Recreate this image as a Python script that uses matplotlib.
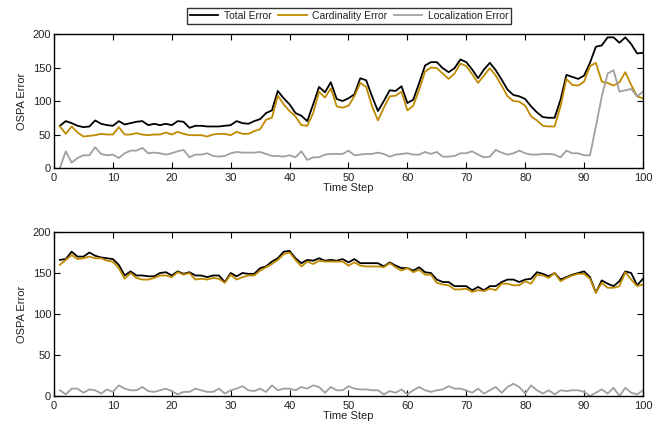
import matplotlib.pyplot as plt
import numpy as np

plt.rcParams['font.family'] = ['Liberation Sans', 'DejaVu Sans']

############### DATA ###############
steps = np.arange(1, 101)

# top panel
total_top = [63, 70, 67, 63, 61, 62, 71, 66, 64, 63, 70, 65, 67, 69, 70, 64, 66, 64, 66, 64,
             70, 69, 60, 63, 63, 62, 62, 62, 63, 64, 70, 67, 66, 70, 73, 82, 86, 115, 104, 95,
             82, 78, 70, 95, 121, 113, 128, 103, 100, 104, 110, 134, 131, 107, 85, 100, 116, 115, 122, 97,
             102, 127, 153, 158, 158, 149, 143, 149, 162, 158, 147, 134, 147, 157, 146, 132, 117, 109, 107, 103,
             92, 83, 76, 75, 75, 102, 139, 136, 133, 138, 157, 181, 183, 195, 195, 187, 195, 185, 171, 172]
card_top = [62, 51, 62, 53, 47, 48, 49, 51, 50, 50, 61, 50, 50, 52, 50, 49, 50, 50, 53, 50,
            54, 51, 49, 49, 49, 47, 50, 51, 51, 49, 54, 51, 51, 55, 58, 72, 75, 108, 95, 85,
            77, 64, 63, 82, 114, 105, 119, 92, 90, 93, 107, 127, 121, 92, 71, 90, 107, 108, 114, 86,
            93, 117, 144, 150, 149, 141, 133, 141, 156, 152, 140, 127, 138, 149, 138, 123, 107, 100, 99, 93,
            77, 71, 63, 62, 62, 92, 133, 124, 123, 129, 152, 157, 129, 127, 123, 128, 143, 124, 107, 104]
loc_top = [0, 25, 8, 15, 19, 19, 31, 21, 19, 20, 15, 22, 26, 26, 30, 22, 23, 22, 20, 22,
           25, 27, 16, 20, 20, 22, 18, 17, 18, 22, 24, 23, 23, 23, 24, 21, 18, 18, 17, 19,
           16, 25, 12, 16, 16, 20, 21, 21, 21, 26, 19, 20, 21, 21, 23, 21, 17, 20, 21, 22,
           20, 20, 24, 21, 24, 17, 17, 18, 22, 22, 25, 20, 16, 17, 27, 23, 20, 22, 26, 22,
           20, 20, 21, 21, 20, 16, 26, 22, 22, 19, 19, 62, 107, 141, 146, 114, 116, 118, 107, 114]

# bottom panel
total_bot = [166, 167, 176, 170, 170, 175, 171, 169, 168, 167, 160, 147, 152, 147, 147, 146, 146, 150, 151, 147,
             152, 149, 151, 147, 147, 145, 147, 147, 139, 150, 146, 150, 149, 149, 156, 158, 164, 168, 176, 177,
             168, 162, 166, 165, 168, 165, 166, 165, 167, 163, 167, 162, 162, 162, 162, 158, 163, 159, 156, 156,
             153, 157, 151, 150, 142, 139, 139, 134, 134, 134, 129, 133, 129, 134, 134, 139, 142, 142, 139, 142,
             143, 151, 149, 146, 150, 142, 145, 148, 150, 152, 145, 126, 141, 137, 134, 140, 152, 150, 135, 143]
card_bot = [160, 166, 172, 167, 168, 170, 168, 168, 165, 164, 156, 143, 150, 144, 142, 142, 144, 147, 147, 145,
            151, 148, 150, 142, 143, 142, 144, 143, 138, 148, 142, 145, 147, 147, 153, 157, 161, 166, 173, 175,
            166, 158, 164, 161, 165, 164, 164, 164, 164, 159, 163, 159, 158, 158, 158, 157, 162, 157, 153, 156,
            151, 154, 148, 148, 138, 136, 135, 130, 130, 131, 127, 129, 128, 131, 129, 137, 137, 135, 135, 140,
            137, 148, 147, 144, 150, 140, 144, 147, 149, 149, 143, 126, 138, 132, 132, 134, 151, 142, 134, 136]
loc_bot = [7, 2, 9, 9, 4, 8, 7, 3, 8, 5, 13, 9, 7, 7, 11, 6, 5, 7, 9, 6,
           2, 5, 5, 9, 7, 5, 5, 9, 3, 7, 9, 12, 7, 6, 9, 5, 13, 7, 9, 9,
           7, 11, 9, 13, 11, 4, 11, 7, 7, 12, 9, 8, 8, 7, 7, 2, 6, 4, 8, 2,
           7, 11, 7, 5, 7, 8, 12, 9, 9, 7, 4, 9, 3, 7, 11, 4, 11, 15, 11, 3,
           13, 7, 3, 7, 2, 7, 6, 7, 7, 5, 0, 4, 8, 3, 10, 0, 10, 4, 2, 7]

labels = ['Total Error', 'Cardinality Error', 'Localization Error']
colors = ['black', '#BF8A00', '#A0A0A0']
text_col = '#222222'

############### CREATE PLOT ###############
fig = plt.figure(figsize=(6.65, 4.23), dpi=100)
ax1 = fig.add_axes([0.0812, 0.6028, 0.8857, 0.3168])
ax2 = fig.add_axes([0.0812, 0.0638, 0.8857, 0.3877])

for ax, series in [(ax1, (total_top, card_top, loc_top)),
                   (ax2, (total_bot, card_bot, loc_bot))]:
    for ys, c, lab in zip(series, colors, labels):
        ax.plot(steps, ys, color=c, lw=1.3, label=lab)
    ax.set_xlim(0, 100)
    ax.set_ylim(0, 200)
    ax.set_xticks(range(0, 101, 10))
    ax.set_yticks(range(0, 201, 50))
    ax.tick_params(direction='in', top=True, right=True, labelsize=8,
                   labelcolor=text_col, length=4, width=0.8)
    ax.tick_params(axis='x', pad=3.5)
    ax.tick_params(axis='y', pad=2)
    for s in ax.spines.values():
        s.set_linewidth(1.0)
    ax.set_xlabel('Time Step', fontsize=8, color=text_col, labelpad=0)
    ax.set_ylabel('OSPA Error', fontsize=8, color=text_col, labelpad=4)

leg = fig.legend(*ax1.get_legend_handles_labels(), loc='center', ncol=3,
                 bbox_to_anchor=(0.525, 0.962), fontsize=7.5, frameon=True,
                 fancybox=False, edgecolor='black', handlelength=2.7,
                 handletextpad=0.5, columnspacing=0.7, borderpad=0.3)
leg.get_frame().set_linewidth(1.0)
for t in leg.get_texts():
    t.set_color(text_col)

fig.savefig('out.png', dpi=100)
